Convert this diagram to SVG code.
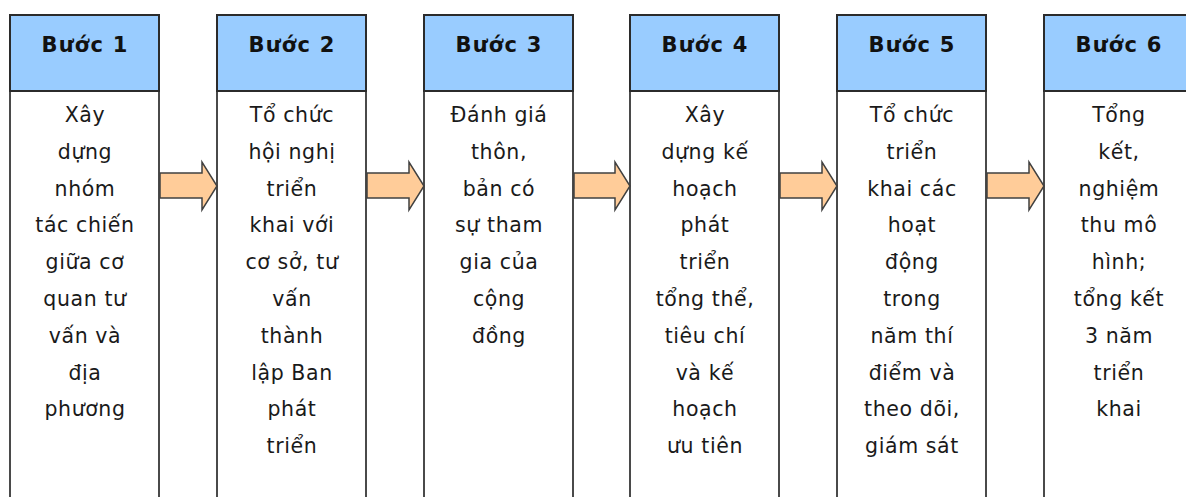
<svg xmlns="http://www.w3.org/2000/svg" width="1186" height="497" viewBox="0 0 1186 497">
<style>
.body{fill:#fff;stroke:#4a4a4a;stroke-width:2}
.head{fill:#99CCFF;stroke:#2b2b2b;stroke-width:2}
.ht{font-family:"DejaVu Sans",sans-serif;font-weight:bold;font-size:21px;fill:#111;text-anchor:middle;letter-spacing:1.2px}
.bt{font-family:"DejaVu Sans",sans-serif;font-size:20.5px;fill:#1a1a1a;text-anchor:middle;letter-spacing:0.6px}
.arr{fill:#FFCC99;stroke:#404040;stroke-width:1.5;stroke-linejoin:miter}
</style>
<rect width="1186" height="497" fill="#fff"/>
<g id="step1">
<rect class="body" x="10" y="15" width="149" height="500"/>
<rect class="head" x="10" y="15" width="149" height="76"/>
<text class="ht" x="85" y="52">Bước 1</text>
<text class="bt"><tspan x="85" y="122">Xây</tspan><tspan x="85" y="158.8">dựng</tspan><tspan x="85" y="195.6">nhóm</tspan><tspan x="85" y="232.4">tác chiến</tspan><tspan x="85" y="269.2">giữa cơ</tspan><tspan x="85" y="306">quan tư</tspan><tspan x="85" y="342.8">vấn và</tspan><tspan x="85" y="379.6">địa</tspan><tspan x="85" y="416.4">phương</tspan></text>
</g>
<g id="step2">
<rect class="body" x="217" y="15" width="149" height="500"/>
<rect class="head" x="217" y="15" width="149" height="76"/>
<text class="ht" x="292" y="52">Bước 2</text>
<text class="bt"><tspan x="292" y="122">Tổ chức</tspan><tspan x="292" y="158.8">hội nghị</tspan><tspan x="292" y="195.6">triển</tspan><tspan x="292" y="232.4">khai với</tspan><tspan x="292" y="269.2">cơ sở, tư</tspan><tspan x="292" y="306">vấn</tspan><tspan x="292" y="342.8">thành</tspan><tspan x="292" y="379.6">lập Ban</tspan><tspan x="292" y="416.4">phát</tspan><tspan x="292" y="453.2">triển</tspan></text>
</g>
<g id="step3">
<rect class="body" x="424" y="15" width="149" height="500"/>
<rect class="head" x="424" y="15" width="149" height="76"/>
<text class="ht" x="499" y="52">Bước 3</text>
<text class="bt"><tspan x="499" y="122">Đánh giá</tspan><tspan x="499" y="158.8">thôn,</tspan><tspan x="499" y="195.6">bản có</tspan><tspan x="499" y="232.4">sự tham</tspan><tspan x="499" y="269.2">gia của</tspan><tspan x="499" y="306">cộng</tspan><tspan x="499" y="342.8">đồng</tspan></text>
</g>
<g id="step4">
<rect class="body" x="630" y="15" width="149" height="500"/>
<rect class="head" x="630" y="15" width="149" height="76"/>
<text class="ht" x="705" y="52">Bước 4</text>
<text class="bt"><tspan x="705" y="122">Xây</tspan><tspan x="705" y="158.8">dựng kế</tspan><tspan x="705" y="195.6">hoạch</tspan><tspan x="705" y="232.4">phát</tspan><tspan x="705" y="269.2">triển</tspan><tspan x="705" y="306">tổng thể,</tspan><tspan x="705" y="342.8">tiêu chí</tspan><tspan x="705" y="379.6">và kế</tspan><tspan x="705" y="416.4">hoạch</tspan><tspan x="705" y="453.2">ưu tiên</tspan></text>
</g>
<g id="step5">
<rect class="body" x="837" y="15" width="149" height="500"/>
<rect class="head" x="837" y="15" width="149" height="76"/>
<text class="ht" x="912" y="52">Bước 5</text>
<text class="bt"><tspan x="912" y="122">Tổ chức</tspan><tspan x="912" y="158.8">triển</tspan><tspan x="912" y="195.6">khai các</tspan><tspan x="912" y="232.4">hoạt</tspan><tspan x="912" y="269.2">động</tspan><tspan x="912" y="306">trong</tspan><tspan x="912" y="342.8">năm thí</tspan><tspan x="912" y="379.6">điểm và</tspan><tspan x="912" y="416.4">theo dõi,</tspan><tspan x="912" y="453.2">giám sát</tspan></text>
</g>
<g id="step6">
<rect class="body" x="1044" y="15" width="149" height="500"/>
<rect class="head" x="1044" y="15" width="149" height="76"/>
<text class="ht" x="1119" y="52">Bước 6</text>
<text class="bt"><tspan x="1119" y="122">Tổng</tspan><tspan x="1119" y="158.8">kết,</tspan><tspan x="1119" y="195.6">nghiệm</tspan><tspan x="1119" y="232.4">thu mô</tspan><tspan x="1119" y="269.2">hình;</tspan><tspan x="1119" y="306">tổng kết</tspan><tspan x="1119" y="342.8">3 năm</tspan><tspan x="1119" y="379.6">triển</tspan><tspan x="1119" y="416.4">khai</tspan></text>
</g>
<g id="connectors">
<path class="arr" d="M160,173 H202 V162 L217,186 L202,210 V198 H160 Z"/>
<path class="arr" d="M367,173 H409 V162 L424,186 L409,210 V198 H367 Z"/>
<path class="arr" d="M574,173 H615 V162 L630,186 L615,210 V198 H574 Z"/>
<path class="arr" d="M780,173 H822 V162 L837,186 L822,210 V198 H780 Z"/>
<path class="arr" d="M987,173 H1029 V162 L1044,186 L1029,210 V198 H987 Z"/>
</g>
</svg>
